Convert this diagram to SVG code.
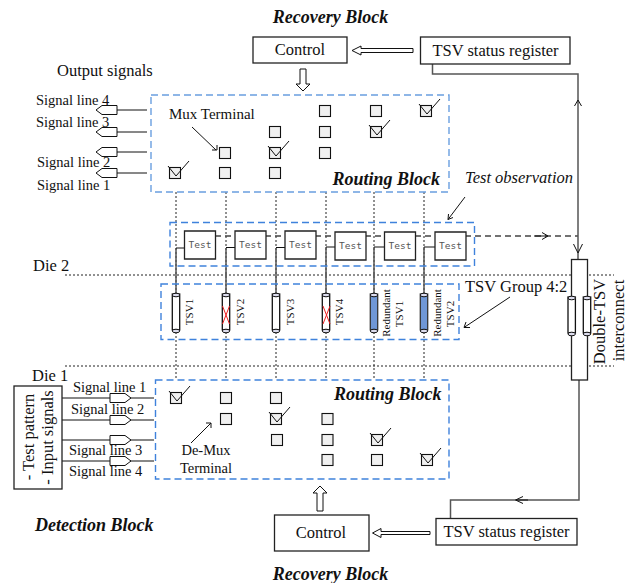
<svg xmlns="http://www.w3.org/2000/svg" xmlns:xlink="http://www.w3.org/1999/xlink" width="638" height="583" viewBox="0 0 638 583">
<style>
text{font-family:"Liberation Serif","Times New Roman",serif;fill:#111;font-size:14.500px}
.b{font-weight:bold;font-style:italic;font-size:18px}
.m{font-size:16.500px}
.box{fill:#fff;stroke:#222;stroke-width:1.300}
.blue{fill:none;stroke:#6a9fe0;stroke-width:1.400;stroke-dasharray:7 4}
.blue2{fill:none;stroke:#3f82dc;stroke-width:1.400;stroke-dasharray:7 4}
.dot{fill:none;stroke:#222;stroke-width:1;stroke-dasharray:2 2}
.line{fill:none;stroke:#111;stroke-width:1}
.gray{fill:none;stroke:#555;stroke-width:1.500}
.dash{fill:none;stroke:#444;stroke-width:1.300;stroke-dasharray:6 4}
.hollow{fill:#fff;stroke:#111;stroke-width:1}
.t{fill:#f0f0f0;stroke:#111;stroke-width:1.100}
.test{font-family:"DejaVu Sans Mono",monospace;font-size:9.500px;fill:#555}
.r{font-size:11px}
.rr{font-size:11px}
</style>
<defs>
<g id="term"><rect x="-5.500" y="-5.500" width="11" height="11" class="t"/></g>
<g id="chk"><rect x="-5.500" y="-5.500" width="11" height="11" class="t"/><path d="M-7-7L1 3L14-12" class="line"/></g>
<path id="pl" d="M117-4.500H102L96 0L102 4.500H117Z" class="hollow"/>
<path id="pr" d="M110-4.500H125L131 0L125 4.500H110Z" class="hollow"/>
<g id="cyl"><rect x="-3.700" y="-19" width="7.400" height="36" fill="#fff" stroke="#111" stroke-width="1.300"/><ellipse cx="0" cy="-18" rx="3.700" ry="1.800" fill="#dde" stroke="#111"/><ellipse cx="0" cy="18" rx="3.700" ry="1.800" fill="#dde" stroke="#111"/></g>
<g id="cylb"><rect x="-3.700" y="-19" width="7.400" height="36" fill="#6f97d6" stroke="#333" stroke-width="1.300"/><ellipse cx="0" cy="-18" rx="3.700" ry="1.800" fill="#dde" stroke="#111"/><ellipse cx="0" cy="18" rx="3.700" ry="1.800" fill="#dde" stroke="#111"/></g>
<path id="xm" d="M-3.500-9L3.500 9M3.500-9L-3.500 9" stroke="#f02020" fill="none" stroke-width="1"/>
<path id="testbox" d="M0 0H31V28H0Z" class="box"/>
</defs>

<g id="connectors">
<path class="dot" d="M176 192V380M226 192V380M276 192V380M326 192V380M374 192V380M424 192V380"/>
<path class="dot" d="M65 275H614M65 366H614"/>
<path class="gray" d="M176 248V294M226 248V294M276 248V294M326 247V294M374 247V294M424 247V294"/>
<path class="line" d="M176 248H185M226 247.500H235M276 247.500H285M326 247H335M374 247H385M424 247H435"/>
<path class="dash" d="M215 236H578"/>
<path class="line" d="M534 236H547M542 232.500L548 236L542 239.500"/>
<path class="gray" d="M432.500 64V74H578V259M579 380V500H450.500V518"/>
<path class="line" d="M574.500 106L578 100L581.500 106M573.500 244L578 253L582.500 244M516 500H528M523 496.500L515.500 500L523 503.500"/>
<path class="line" d="M147 110H117M147 132H117M147 152H117M147 173H117M62 398H154M62 420H154M62 440H154M62 461H154"/>
<path class="line" d="M192 127L216 150M212 150H217V145"/>
<path class="line" d="M191 443L211 423M206 423H211V428"/>
<path class="line" d="M465 197L448 219.500M448.500 214L448 219.500L453 217.500"/>
<path class="line" d="M510 297L464 327.500M466 322L464 327.500L470 327.500"/>
<path class="hollow" d="M413 48.500H361V46L352 50.500L361 55V52.500H413Z"/>
<path class="hollow" d="M430 531.500H381V528.500L372.500 533L381 537.500V534.500H430Z"/>
<path class="hollow" d="M300 69H306V84H310L303 91L296 84H300Z"/>
<path class="hollow" d="M317 511V493H313L320 486L327 493H323V511Z"/>
</g>

<g id="routing-top"><rect x="151" y="95" width="298" height="97" class="blue"/><text class="b" x="332.500" y="185">Routing Block</text></g>
<g id="routing-bottom"><rect x="155.500" y="380" width="293.500" height="99" class="blue2"/><text class="b" x="334" y="400">Routing Block</text></g>
<g id="test-group"><rect x="170" y="222.500" width="304.500" height="43.500" class="blue2"/></g>
<g id="tsv-group"><rect x="161" y="284" width="298" height="55.500" class="blue2"/></g>

<g id="terminals-top">
<use xlink:href="#chk" x="175" y="173"/><use xlink:href="#term" x="225" y="153"/><use xlink:href="#term" x="225" y="173"/>
<use xlink:href="#term" x="275" y="132"/><use xlink:href="#chk" x="275" y="153"/><use xlink:href="#term" x="275" y="173"/>
<use xlink:href="#term" x="325" y="111"/><use xlink:href="#term" x="325" y="132"/><use xlink:href="#term" x="325" y="153"/>
<use xlink:href="#term" x="376" y="111"/><use xlink:href="#chk" x="376" y="132"/><use xlink:href="#chk" x="426" y="111"/>
</g>
<g id="terminals-bottom">
<use xlink:href="#chk" x="176" y="398"/><use xlink:href="#term" x="226" y="398"/><use xlink:href="#term" x="276" y="398"/>
<use xlink:href="#term" x="226" y="419"/><use xlink:href="#chk" x="276" y="419"/><use xlink:href="#term" x="277" y="440"/>
<use xlink:href="#term" x="327.500" y="419"/><use xlink:href="#term" x="327.500" y="440"/><use xlink:href="#term" x="327.500" y="460"/>
<use xlink:href="#chk" x="377" y="440"/><use xlink:href="#term" x="377" y="460"/><use xlink:href="#chk" x="427" y="460"/>
</g>

<g id="output-pentagons"><use xlink:href="#pl" y="110"/><use xlink:href="#pl" y="132"/><use xlink:href="#pl" y="152"/><use xlink:href="#pl" y="173"/></g>
<g id="input-pentagons"><use xlink:href="#pr" y="398"/><use xlink:href="#pr" y="420"/><use xlink:href="#pr" y="440"/><use xlink:href="#pr" y="461"/></g>

<g id="control-top"><rect x="253" y="37" width="94" height="26" class="box"/><text class="m" x="300" y="55" text-anchor="middle">Control</text></g>
<g id="status-top"><rect x="420.500" y="37" width="149.500" height="27" class="box"/><text class="m" x="495.500" y="56" text-anchor="middle">TSV status register</text></g>
<g id="control-bottom"><rect x="274.500" y="515" width="94.500" height="36" class="box"/><text class="m" x="321" y="538" text-anchor="middle">Control</text></g>
<g id="status-bottom"><rect x="436" y="518.500" width="141" height="26.500" class="box"/><text class="m" x="506.500" y="537" text-anchor="middle">TSV status register</text></g>

<g id="test-1"><use xlink:href="#testbox" x="184.500" y="231"/><text class="test" x="200" y="248" text-anchor="middle">Test</text></g>
<g id="test-2"><use xlink:href="#testbox" x="235" y="231"/><text class="test" x="250.500" y="248" text-anchor="middle">Test</text></g>
<g id="test-3"><use xlink:href="#testbox" x="285" y="231"/><text class="test" x="300.500" y="248" text-anchor="middle">Test</text></g>
<g id="test-4"><use xlink:href="#testbox" x="335" y="232"/><text class="test" x="350.500" y="249" text-anchor="middle">Test</text></g>
<g id="test-5"><use xlink:href="#testbox" x="384.500" y="232"/><text class="test" x="400" y="249" text-anchor="middle">Test</text></g>
<g id="test-6"><use xlink:href="#testbox" x="435" y="232"/><text class="test" x="450.500" y="249" text-anchor="middle">Test</text></g>

<g id="tsv-1"><use xlink:href="#cyl" x="176" y="313"/><text class="r" transform="translate(193 312) rotate(-90)" text-anchor="middle">TSV1</text></g>
<g id="tsv-2"><use xlink:href="#cyl" x="226" y="313"/><use xlink:href="#xm" x="226" y="315"/><text class="r" transform="translate(244 312) rotate(-90)" text-anchor="middle">TSV2</text></g>
<g id="tsv-3"><use xlink:href="#cyl" x="276" y="313"/><text class="r" transform="translate(294 312) rotate(-90)" text-anchor="middle">TSV3</text></g>
<g id="tsv-4"><use xlink:href="#cyl" x="326" y="313"/><use xlink:href="#xm" x="326.500" y="315"/><text class="r" transform="translate(343 312) rotate(-90)" text-anchor="middle">TSV4</text></g>
<g id="tsv-r1"><use xlink:href="#cylb" x="374" y="313"/><text class="rr" transform="translate(390 313) rotate(-90)" text-anchor="middle">Redundant</text><text class="r" transform="translate(403 314) rotate(-90)" text-anchor="middle">TSV1</text></g>
<g id="tsv-r2"><use xlink:href="#cylb" x="424" y="313"/><text class="rr" transform="translate(441 313) rotate(-90)" text-anchor="middle">Redundant</text><text class="r" transform="translate(454 314) rotate(-90)" text-anchor="middle">TSV2</text></g>

<g id="double-tsv"><rect x="571.500" y="259.500" width="16" height="120.500" class="box"/><use xlink:href="#cyl" x="571.700" y="316"/><use xlink:href="#cyl" x="587" y="316"/>
<text class="m" transform="translate(605 321.500) rotate(-90)" text-anchor="middle">Double-TSV</text><text class="m" transform="translate(624 320.500) rotate(-90)" text-anchor="middle">interconnect</text></g>

<g id="pattern"><rect x="14" y="386" width="48" height="103" class="box"/><text class="m" transform="translate(34 437) rotate(-90)" text-anchor="middle">- Test pattern</text><text class="m" transform="translate(53 437.500) rotate(-90)" text-anchor="middle">- Input signals</text></g>

<g id="labels">
<text class="b" x="330.500" y="23" text-anchor="middle">Recovery Block</text>
<text class="b" x="330.500" y="580" text-anchor="middle">Recovery Block</text>
<text class="b" x="35" y="531">Detection Block</text>
<text class="m" x="57" y="76">Output signals</text>
<text x="36" y="105">Signal line 4</text>
<text x="36" y="127">Signal line 3</text>
<text x="37" y="167">Signal line 2</text>
<text x="37" y="190">Signal line 1</text>
<text x="169" y="119" style="font-size:15px">Mux Terminal</text>
<text class="m" x="465" y="183" style="font-style:italic">Test observation</text>
<text class="m" x="33" y="271">Die 2</text>
<text class="m" x="32" y="381">Die 1</text>
<text class="m" x="465" y="292">TSV Group 4:2</text>
<text x="73" y="392">Signal line 1</text>
<text x="71" y="414">Signal line 2</text>
<text x="69" y="455">Signal line 3</text>
<text x="69" y="476">Signal line 4</text>
<text x="206" y="455" text-anchor="middle">De-Mux</text>
<text x="206" y="473" text-anchor="middle">Terminal</text>
</g>
</svg>
